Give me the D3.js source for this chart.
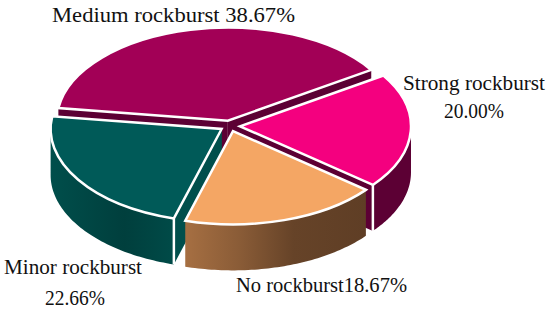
<!DOCTYPE html>
<html>
<head>
<meta charset="utf-8">
<script src="https://cdn.jsdelivr.net/npm/d3@7"></script>
<style>
  html, body { margin: 0; padding: 0; background: #fff; }
  svg { display: block; }
  text { font-family: "Liberation Serif", serif; fill: #111; }
</style>
</head>
<body>
<div id="chart"></div>
<script>
// clockwise from the start angle
var categories = ["Strong rockburst", "No rockburst", "Minor rockburst", "Medium rockburst"];
var shares = [20.00, 18.67, 22.66, 38.67];
var labelLines = [
  ["Strong rockburst", "20.00%"],
  ["No rockburst18.67%"],
  ["Minor rockburst", "22.66%"],
  ["Medium rockburst 38.67%"]
];

var width = 550, height = 310;
var cx = 230, cy = 126;
var rx = 171, tilt = 0.545, depth = 46, explode = 10;
var startDeg = 57;

var topColors = ["#f4007f", "#f4a664", "#005a58", "#a20056"];
var sideColors = ["#5c0034", "#a56f42", "#004f4c", "#5c0034"];
var showCuts = [true, false, true, true];
var wallStops = [
  [],
  [[0, "#a66f42"], [0.3, "#8a5c37"], [0.6, "#664328"], [1, "#5f3e25"]],
  [[0, "#004e4b"], [0.6, "#003f3d"], [1, "#004b48"]],
  []
];
var labelPos = [
  [[474, 90], [474, 118]],
  [[321.5, 292]],
  [[73, 274], [75, 305]],
  [[173.5, 22]]
];
var labelWidths = [[142, 60], [171], [138, 60], [243]];

var svg = d3.select("#chart").append("svg").attr("width", width).attr("height", height);
var defs = svg.append("defs");

var pie = d3.pie().sort(null).value(function (d) { return d; })
  .startAngle(startDeg * Math.PI / 180)
  .endAngle((startDeg + 360) * Math.PI / 180);
var arcs = pie(shares);
var arc = d3.arc().innerRadius(0).outerRadius(rx);
var line = d3.line();

function pt(a, r) {
  return [r * Math.sin(a), -r * Math.cos(a) * tilt];
}

// back slices first
var order = d3.range(arcs.length).sort(function (a, b) {
  var ma = (arcs[a].startAngle + arcs[a].endAngle) / 2;
  var mb = (arcs[b].startAngle + arcs[b].endAngle) / 2;
  return Math.cos(mb) - Math.cos(ma);
});

order.forEach(function (i) {
  var d = arcs[i];
  var mid = (d.startAngle + d.endAngle) / 2;
  var off = pt(mid, explode);
  var g = svg.append("g").attr("transform", "translate(" + (cx + off[0]) + "," + (cy + off[1]) + ")");

  // radial walls, the neighbours in front cover most of them
  if (showCuts[i]) {
    [d.startAngle, d.endAngle].forEach(function (a) {
      var o = pt(a, rx);
      g.append("path")
        .attr("d", line([[0, 0], o, [o[0], o[1] + depth], [0, depth]]) + "Z")
        .attr("fill", sideColors[i]);
    });
  }

  // outer wall, front half of the ellipse only
  var a0 = Math.max(d.startAngle, Math.PI / 2);
  var a1 = Math.min(d.endAngle, Math.PI * 1.5);
  if (a1 > a0) {
    var steps = d3.range(0, 61).map(function (k) { return a0 + (a1 - a0) * k / 60; });
    var upper = steps.map(function (a) { return pt(a, rx); });
    var lower = upper.map(function (p) { return [p[0], p[1] + depth]; }).reverse();
    var fill = sideColors[i];
    if (wallStops[i].length) {
      var xs = upper.map(function (p) { return p[0]; });
      var grad = defs.append("linearGradient").attr("id", "wall" + i)
        .attr("gradientUnits", "userSpaceOnUse")
        .attr("x1", d3.min(xs)).attr("x2", d3.max(xs)).attr("y1", 0).attr("y2", 0);
      wallStops[i].forEach(function (s) {
        grad.append("stop").attr("offset", s[0]).attr("stop-color", s[1]);
      });
      fill = "url(#wall" + i + ")";
    }
    g.append("path").attr("d", line(upper.concat(lower)) + "Z").attr("fill", fill);

    // white edge where the outer wall meets the cut
    if (showCuts[i]) {
      var c = pt(d.startAngle > Math.PI / 2 ? d.startAngle : d.endAngle, rx);
      g.append("path").attr("d", line([c, [c[0], c[1] + depth]]))
        .attr("stroke", "#fff").attr("stroke-width", 2.5);
    }
  }

  // top face
  g.append("path")
    .attr("d", arc(d))
    .attr("transform", "scale(1," + tilt + ")")
    .attr("fill", topColors[i])
    .attr("stroke", "#fff")
    .attr("stroke-width", 2.5)
    .attr("vector-effect", "non-scaling-stroke");
});

categories.forEach(function (name, i) {
  labelLines[i].forEach(function (t, k) {
    svg.append("text")
      .attr("x", labelPos[i][k][0])
      .attr("y", labelPos[i][k][1])
      .attr("text-anchor", "middle")
      .attr("font-size", 21)
      .attr("textLength", labelWidths[i][k])
      .attr("lengthAdjust", "spacingAndGlyphs")
      .text(t);
  });
});
</script>
</body>
</html>
